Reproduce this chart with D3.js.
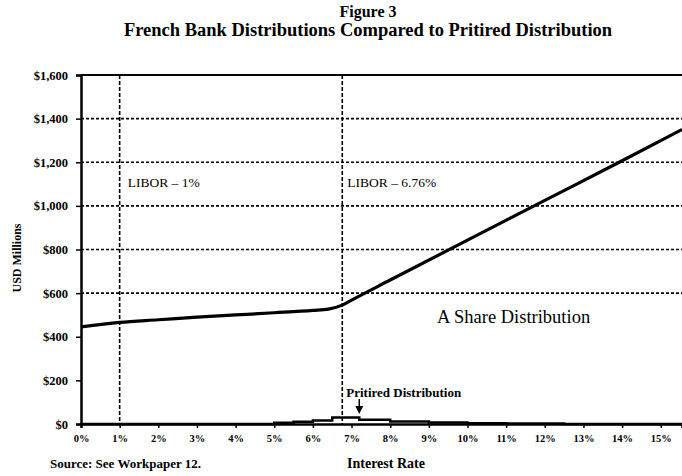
<!DOCTYPE html>
<html>
<head>
<meta charset="utf-8">
<style>
body { margin: 0; background: #fff; }
svg text { font-family: "Liberation Serif", "DejaVu Serif", serif; font-weight: bold; fill: #000; }
</style>
</head>
<body>
<div id="chart"></div>
<script src="https://d3js.org/d3.v7.min.js"></script>
<script>
// A share distribution vs interest rate (%, USD millions)
const shareRate = [0, 1, 2, 3, 4, 5, 6, 6.4, 6.76, 7, 8, 10, 12, 14, 15.55];
const shareValue = [445, 466, 478, 490, 500, 510, 521, 527, 545, 568, 660, 843, 1025, 1207, 1350];

// Pritired distribution, stepped (left edge of each step)
const distRate = [0, 5.0, 5.5, 6.0, 6.5, 7.2, 8.0, 9.0, 10.0, 11.0, 12.5, 15.55];
const distValue = [0, 6, 10, 16, 30, 20, 12, 7, 4, 2, 0, 0];

const yTicks = [0, 200, 400, 600, 800, 1000, 1200, 1400, 1600];
const xTicks = [0, 1, 2, 3, 4, 5, 6, 7, 8, 9, 10, 11, 12, 13, 14, 15];
const gridValues = [600, 800, 1000, 1200, 1400];
const liborLines = [1, 6.76];

const width = 682, height = 476;
const svg = d3.select("#chart").append("svg")
  .attr("width", width)
  .attr("height", height);

const x = d3.scaleLinear().domain([0, 15.55]).range([81, 682]);
const y = d3.scaleLinear().domain([0, 1600]).range([424, 75]);

// title
svg.append("text").attr("x", 368).attr("y", 17).attr("text-anchor", "middle")
  .style("font-size", "16px").text("Figure 3");
svg.append("text").attr("x", 368).attr("y", 36).attr("text-anchor", "middle")
  .style("font-size", "18.5px").text("French Bank Distributions Compared to Pritired Distribution");

// gridlines
svg.append("g").selectAll("line").data(gridValues).join("line")
  .attr("x1", x(0)).attr("x2", x(15.55))
  .attr("y1", d => y(d)).attr("y2", d => y(d))
  .attr("stroke", "#000").attr("stroke-width", 1.6).attr("stroke-dasharray", "3,2");

// top border at $1,600
svg.append("line")
  .attr("x1", x(0)).attr("x2", x(15.55)).attr("y1", y(1600)).attr("y2", y(1600))
  .attr("stroke", "#000").attr("stroke-width", 2);

// LIBOR verticals
svg.append("g").selectAll("line").data(liborLines).join("line")
  .attr("x1", d => x(d)).attr("x2", d => x(d))
  .attr("y1", y(1600)).attr("y2", y(0))
  .attr("stroke", "#000").attr("stroke-width", 1.6).attr("stroke-dasharray", "4,2");

// y axis
const yAxis = svg.append("g").attr("transform", `translate(${x(0)},0)`)
  .call(d3.axisLeft(y).tickValues(yTicks).tickSize(5).tickPadding(8)
    .tickFormat(d => "$" + d3.format(",")(d)));
yAxis.select(".domain").attr("stroke-width", 2.5);
yAxis.selectAll(".tick line").attr("stroke-width", 1.5);
yAxis.selectAll("text").style("font-size", "12.5px").style("font-family", "Liberation Serif").style("font-weight", "bold");

// x axis
const xAxis = svg.append("g").attr("transform", `translate(0,${y(0)})`)
  .call(d3.axisBottom(x).tickValues(xTicks).tickSize(4).tickPadding(7)
    .tickFormat(d => d + "%"));
xAxis.select(".domain").attr("stroke-width", 2.5);
xAxis.selectAll(".tick line").attr("stroke-width", 1.5);
xAxis.selectAll("text").style("font-size", "10.5px").style("font-family", "Liberation Serif").style("font-weight", "bold");

// A share line
const shareData = shareRate.map((r, i) => [r, shareValue[i]]);
svg.append("path").datum(shareData)
  .attr("fill", "none").attr("stroke", "#000").attr("stroke-width", 3.2)
  .attr("d", d3.line().x(d => x(d[0])).y(d => y(d[1])).curve(d3.curveMonotoneX));

// pritired distribution
const distData = distRate.map((r, i) => [r, distValue[i]]);
svg.append("path").datum(distData)
  .attr("fill", "none").attr("stroke", "#000").attr("stroke-width", 2.5)
  .attr("d", d3.line().x(d => x(d[0])).y(d => y(d[1])).curve(d3.curveStepAfter));

// annotations
svg.append("text").attr("x", x(1) + 8).attr("y", 187).style("font-size", "13.5px")
  .style("font-weight", "normal").text("LIBOR – 1%");
svg.append("text").attr("x", x(6.76) + 5).attr("y", 187).style("font-size", "13.5px")
  .style("font-weight", "normal").text("LIBOR – 6.76%");
svg.append("text").attr("x", 437).attr("y", 323).style("font-size", "18.5px")
  .style("font-weight", "normal").text("A Share Distribution");
svg.append("text").attr("x", x(6.76) + 4).attr("y", 397).style("font-size", "13px")
  .text("Pritired Distribution");

// arrow
const ax = x(7.2);
svg.append("line").attr("x1", ax).attr("x2", ax).attr("y1", 399).attr("y2", 408)
  .attr("stroke", "#000").attr("stroke-width", 1.5);
svg.append("path")
  .attr("d", d3.line()([[ax - 4, 406], [ax + 4, 406], [ax, 414]]))
  .attr("fill", "#000");

// axis titles
svg.append("text").attr("transform", "translate(21,258) rotate(-90)")
  .attr("text-anchor", "middle").style("font-size", "12px").text("USD Millions");
svg.append("text").attr("x", 386).attr("y", 468).attr("text-anchor", "middle")
  .style("font-size", "14px").text("Interest Rate");
svg.append("text").attr("x", 50).attr("y", 468)
  .style("font-size", "13px").text("Source: See Workpaper 12.");
</script>
</body>
</html>
